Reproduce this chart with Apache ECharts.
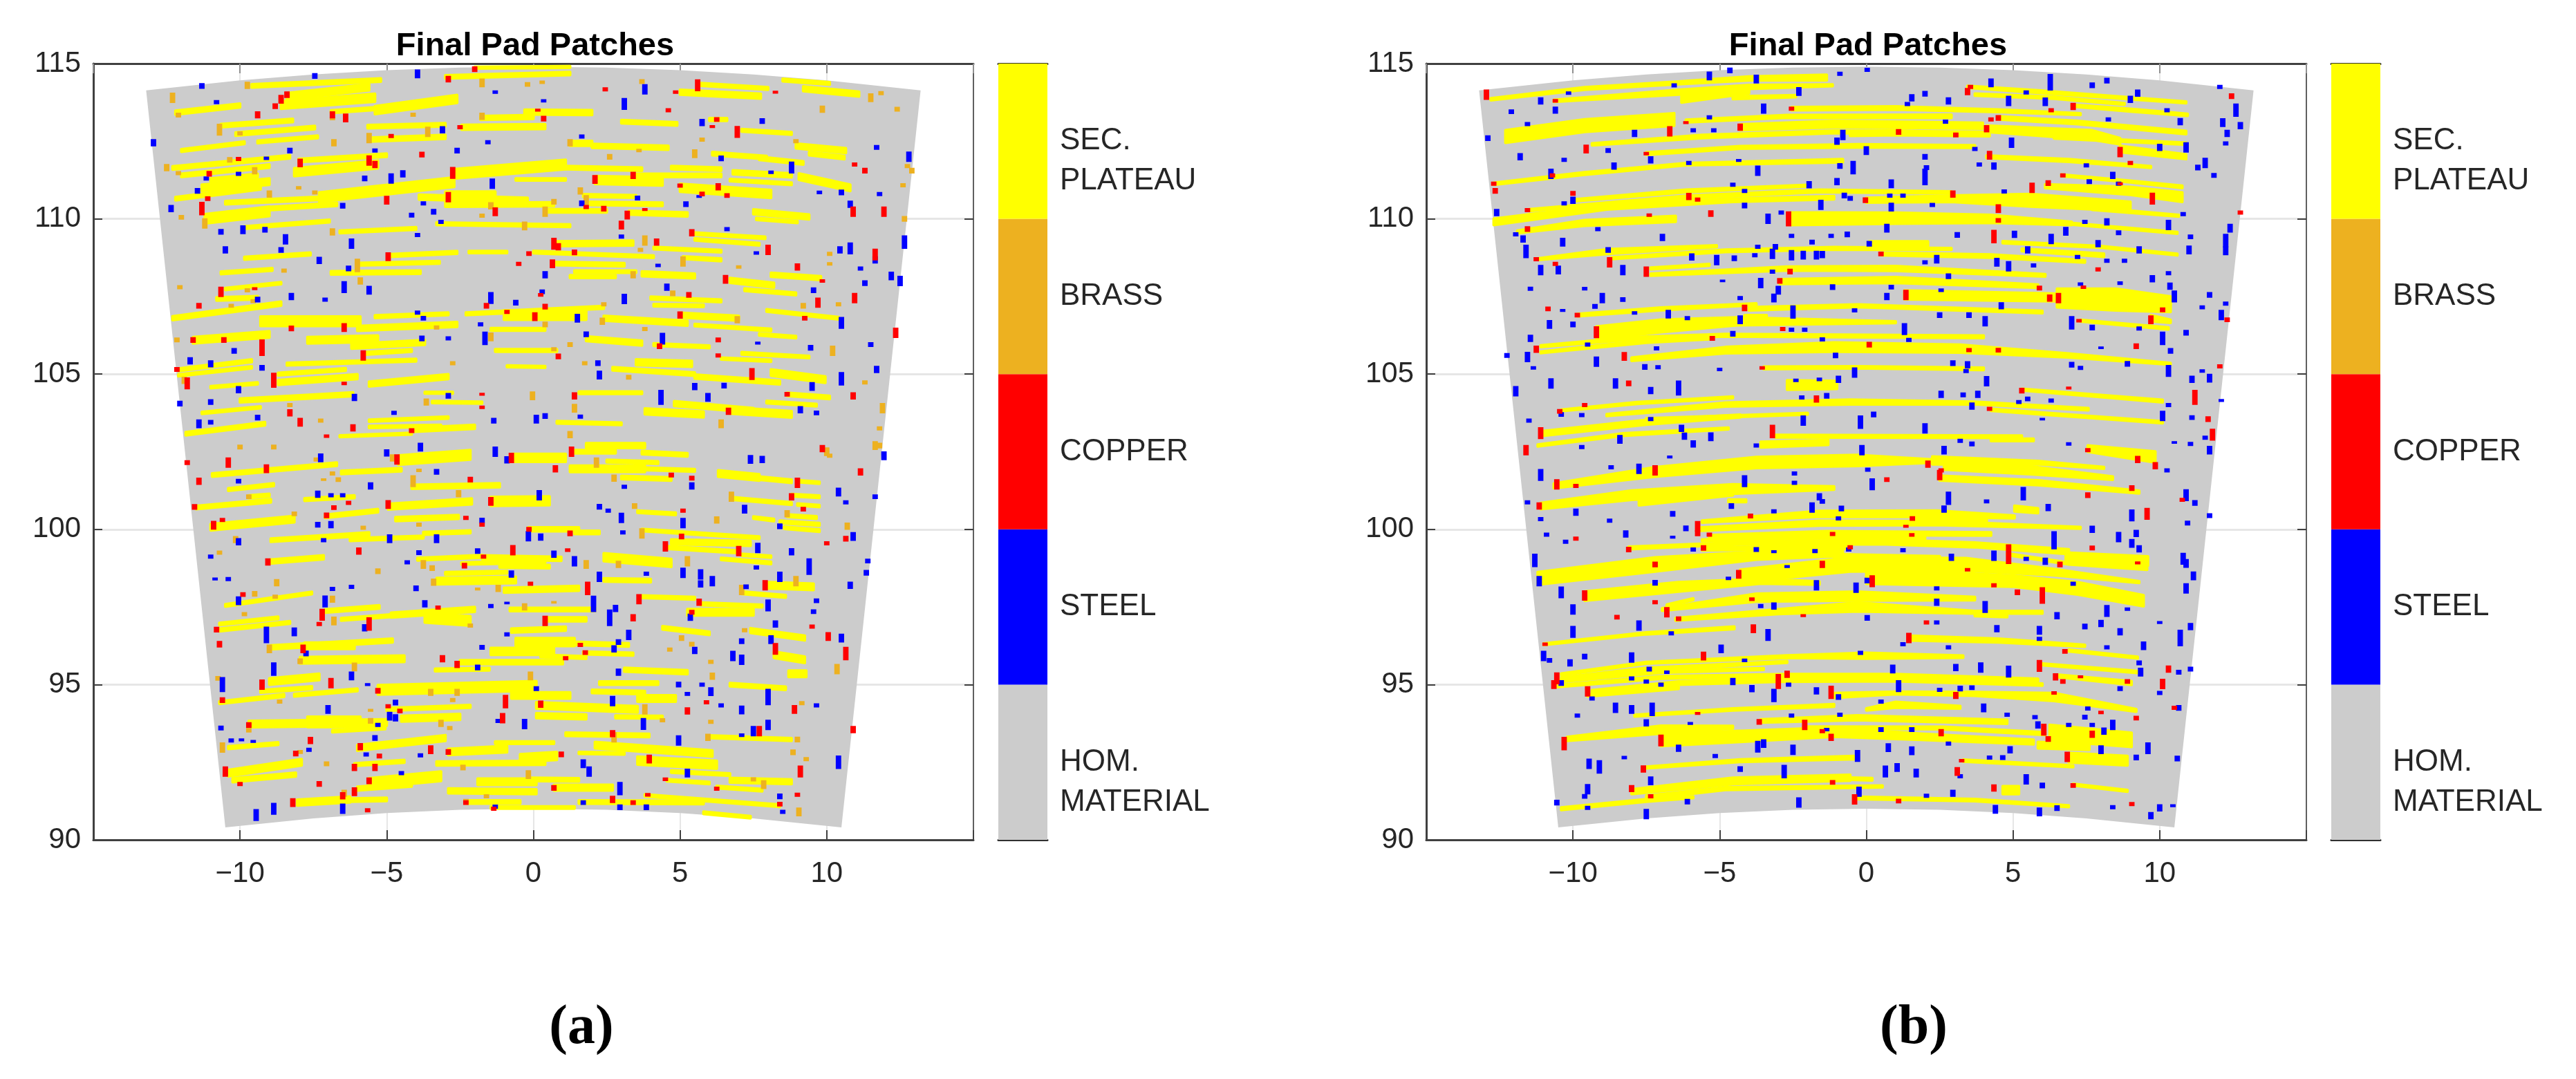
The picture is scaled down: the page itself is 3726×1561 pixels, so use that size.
<!DOCTYPE html>
<html><head><meta charset="utf-8">
<style>html,body{margin:0;padding:0;background:#fff}#c{width:3726px;height:1561px}</style>
<script src="https://cdn.jsdelivr.net/npm/echarts@6/dist/echarts.min.js"></script>
</head><body><div id="c"></div>
<script>
// pad outline in data units
const padOutline=[[-13.2,114.14],[-10,114.46],[-7.5,114.65],[-5,114.79],[-2.5,114.87],[0,114.9],[2.5,114.87],[5,114.79],[7.5,114.65],[10,114.46],[13.2,114.14],[10.5,90.4],[7.5,90.69],[5,90.86],[2.5,90.97],[0,91],[-2.5,90.97],[-5,90.86],[-7.5,90.69],[-10.5,90.4]];
const colorLabels=['HOM.','MATERIAL','STEEL','COPPER','BRASS','SEC.','PLATEAU'];
const colorLabelPos=[.5,.242,1.5,2.5,3.5,4.5,4.242];
const colorNames=['HOM. MATERIAL','STEEL','COPPER','BRASS','SEC. PLATEAU'];
const colorFills=['#cccccc','#0000ff','#ff0000','#edb120','#ffff00'];
// (a) yellow streaks: x1,y1,x2,y2,thickness
const plateauA=[
[-9.6,114.28,-5.2,114.47,.1],[-8.4,113.95,-5.6,114.24,.2],[-8.6,113.67,-5.4,113.9,.25],[-5.4,113.5,-2.6,113.86,.25],[-12.2,113.42,-10,113.65,.12],[-6.9,113.45,-5.4,113.55,.08],[-3,114.57,1.25,114.68,.1],[-2,114.87,1.25,114.89,.05],[5.7,114.33,8,114.2,.08],[5,114.08,7.75,113.95,.15],[8.5,114.47,10.1,114.36,.08],[9.2,114.19,11.1,114.02,.15],[-.3,113.44,2,113.42,.15],[-1.8,113.25,0,113.28,.12],[3,113.13,4.9,113.06,.1],[6,113.2,6.6,113.2,.08],[-10.65,113,-8.2,113.17,.1],[-10.15,112.73,-7.45,112.94,.1],[-5.65,112.97,-3,113.03,.1],[-2.45,112.95,.4,112.97,.15],[7.1,112.85,8.8,112.75,.08],[-12,112.2,-9.85,112.45,.08],[-9.4,112.48,-7.35,112.64,.08],[-5.6,112.55,-3,112.64,.12],[1.25,112.43,2,112.43,.15],[2,112.35,4.6,112.29,.12],[8.95,112.35,10.65,112.2,.15],[9.4,112.1,10.6,111.97,.1],[6.1,112.1,7.95,111.97,.1],[7.7,111.95,9.2,111.8,.1],[-12.3,111.64,-8.3,112,.1],[-12,111.4,-9,111.7,.1],[-8,111.88,-5,112.05,.1],[-8.15,111.5,-5.3,111.75,.25],[-11,111.25,-9.4,111.4,.1],[-11.3,111,-9,111.2,.2],[-12.2,110.65,-9.3,111,.1],[-7.3,110.7,-2.7,111.18,.3],[-2.7,111.45,1.1,111.75,.3],[1.1,111.65,3.7,111.6,.1],[-.6,111.27,1.1,111.27,.06],[2.1,111.25,4.4,111.2,.25],[3.4,111.4,6.4,111.4,.1],[4.7,111.65,6.4,111.6,.1],[6.8,111.5,8.8,111.4,.12],[6.7,111.25,8.8,111.13,.07],[9.05,111.36,10.8,111,.2],[5,111,8.1,110.8,.25],[-3.9,110.7,-.2,110.6,.15],[-3,110.7,-1.3,110.7,.35],[-3,110.45,.7,110.47,.12],[1.7,110.75,3.5,110.72,.08],[1.8,110.5,4.4,110.47,.1],[.4,110.26,2.5,110.26,.1],[3.25,110.2,5.25,110.14,.12],[7.5,110.23,9.4,110.06,.15],[7.6,110,9,109.9,.06],[-10.5,110.52,-7.3,110.66,.1],[-11.2,110,-9,110.24,.3],[-9,110.33,-6.7,110.47,.1],[-9.85,109.72,-6.95,109.93,.08],[-6.6,109.58,-4,109.69,.08],[-3.3,109.84,1.25,109.78,.08],[.7,109.2,3.4,109.22,.15],[5.4,109.53,7.9,109.39,.07],[5.5,109.34,7.7,109.18,.07],[4.1,109.06,6.4,108.96,.07],[-4.9,108.82,-2.6,108.92,.08],[-2.2,108.93,-.9,108.93,.06],[-9.85,108.73,-7.6,108.87,.08],[0,108.93,4.1,108.78,.07],[5.1,108.75,6.4,108.68,.08],[-6,108.54,-3.2,108.6,.08],[.7,108.56,3.1,108.52,.1],[-10.65,108.26,-8.9,108.37,.08],[-6.9,108.26,-3.85,108.28,.1],[1.4,108.3,3.5,108.3,.07],[3.7,108.23,5.5,108.16,.15],[1.25,108.14,2.8,108.14,.08],[8.1,108.2,9.8,108.09,.12],[6.7,108.02,8.2,107.86,.15],[7.2,107.72,8.95,107.58,.08],[-10.5,107.74,-8.6,107.93,.06],[-10.8,107.42,-9.4,107.46,.1],[4,107.45,6.4,107.36,.08],[4.1,107.22,5.8,107.2,.07],[-12.3,106.8,-8.6,107.27,.12],[-2.3,106.94,2.4,107.15,.08],[-1,106.9,1.8,106.9,.3],[-5.4,106.85,-2.9,106.94,.08],[-9.3,106.7,-5.9,106.7,.3],[-6,106.47,-2.6,106.6,.15],[2.4,106.8,5.25,106.64,.15],[5,106.9,7,106.8,.15],[7.95,107.05,10.4,106.8,.07],[5.5,106.58,8.1,106.42,.07],[-1.45,106.44,.4,106.44,.08],[7.7,106.28,8.95,106.19,.07],[-11.6,106.09,-9,106.28,.2],[-7.7,106.09,-5.3,106.14,.2],[-6.2,105.9,-3.7,106.02,.15],[1.8,106.14,3.7,106,.15],[4.1,105.95,6,105.88,.08],[-1.3,105.76,.8,105.76,.08],[-5.7,105.67,-4.15,105.76,.08],[7.1,105.67,9.4,105.55,.07],[6.4,105.5,8.1,105.43,.06],[3.5,105.38,5.4,105.33,.18],[-12.1,105.14,-9.6,105.43,.08],[-12.1,104.96,-9.6,105.22,.06],[-8.4,105.32,-4,105.45,.08],[-8.7,105,-6.4,105.15,.08],[-8.7,104.73,-6,104.92,.15],[-11,104.58,-9.4,104.7,.06],[-5.6,104.68,-2.9,104.92,.15],[2.7,105.17,5.5,105,.1],[5.5,104.92,8.4,104.73,.12],[8.1,105.05,9.95,104.82,.2],[-.9,105.25,.4,105.23,.05],[1.55,104.4,3.7,104.4,.07],[-10,104.15,-6.15,104.35,.12],[-3.7,104.4,-2.75,104.4,.05],[-3.45,104.1,-1.75,104.08,.06],[4.8,104.05,7.5,103.83,.15],[6.7,103.83,8.8,103.7,.2],[3.8,103.8,5.8,103.7,.18],[8.65,104.35,10.1,104.25,.1],[7.95,104.1,9.65,104,.07],[-11.3,103.75,-9.3,103.93,.06],[-11.85,103.08,-9.15,103.4,.1],[-5.6,103.5,-2.9,103.6,.06],[-5.6,103.3,-3.15,103.33,.06],[-4.15,103.2,-2,103.3,.12],[-6.6,103,-4.15,103.08,.05],[.8,103.45,3,103.4,.07],
[1.8,102.7,3.8,102.7,.15],[-4.6,102.23,-2.15,102.4,.3],[-.75,102.3,1.1,102.3,.25],[1.4,102.5,2.8,102.5,.1],[3.7,102.47,5.25,102.4,.1],[2.5,102.2,4.25,102.15,.08],[-10.95,101.75,-6.7,102.1,.1],[-6.55,101.83,-4.5,101.92,.1],[1.25,101.95,3.8,101.95,.2],[3.8,101.95,5.5,101.9,.08],[6.3,101.8,7.7,101.67,.2],[7.7,101.65,8.8,101.55,.1],[3,101.67,4.7,101.62,.1],[9,101.55,9.75,101.5,.06],[-4.15,101.37,-1.15,101.42,.12],[-10.4,101.28,-8.85,101.44,.08],[-9.7,101.05,-9,101.1,.08],[-7.8,100.96,-6.1,101.05,.08],[-11.5,100.7,-8.95,100.92,.1],[-1.45,100.9,.55,100.92,.28],[-4.95,100.73,-2.1,100.9,.18],[6.7,101,8.8,100.83,.08],[8.8,101.1,9.75,101.05,.07],[9,100.8,9.75,100.75,.06],[-7.1,100.42,-5.3,100.6,.1],[3.55,100.57,4.85,100.5,.07],[-4.7,100.33,-2.55,100.4,.12],[-11,100.07,-8.15,100.33,.2],[8.65,100.44,9.65,100.38,.08],[7.5,100.38,8.2,100.3,.07],[8.4,100.24,9.75,100.16,.08],[8.55,100.05,9.75,99.96,.07],[-.17,100,1.55,100,.12],[1.4,99.9,2.25,99.9,.1],[-8.95,99.65,-5.6,99.85,.1],[-6.25,99.67,-3.75,99.75,.08],[-3.75,99.87,-2.15,99.92,.08],[3.7,99.98,7.7,99.73,.07],[4.7,99.6,7.4,99.55,.15],[4.5,99.42,6.9,99.28,.08],[-9,98.96,-7.15,99.1,.12],[-3.95,99.04,-1.75,99.13,.08],[-1.75,99.1,.95,99.05,.12],[-2.45,98.9,.4,98.96,.07],[-1.15,98.82,.55,98.8,.1],[2.4,99.1,4.7,98.92,.25],[6.4,99.05,8.1,98.92,.07],[7.1,99.18,8.1,99.12,.06],[-3,98.58,-.9,98.62,.08],[-3.3,98.33,-.6,98.37,.2],[-1,98.04,1.55,98.1,.15],[2.4,98.37,4,98.35,.1],[8,98.2,9.55,98.15,.2],[7.1,97.96,8.6,97.84,.08],[-10.5,97.55,-7.55,97.95,.07],[3.7,97.83,5.5,97.78,.08],[5.7,97.6,7.8,97.53,.08],[-7.1,97.37,-5.25,97.5,.1],[-4.85,97.24,-2,97.42,.15],[-3.7,97.15,-2.15,97.05,.3],[-.8,97.42,2.1,97.42,.1],[5.25,97.33,7.5,97.33,.2],[-6.55,97.1,-4.85,97.22,.08],[-10.7,96.95,-8.7,97.15,.07],[-10.7,96.76,-8.3,97,.08],[.4,97.1,1.8,97.1,.12],[-.75,96.74,1.1,96.8,.12],[4.4,96.83,6,96.65,.1],[7.4,96.74,9.25,96.5,.15],[-8.95,96.2,-4.8,96.42,.12],[-7.8,96.25,-6.1,96.25,.2],[-.6,96.37,1.4,96.37,.25],[1.4,96.33,3.25,96.28,.1],[-1.45,96.07,.7,96.07,.22],[1.7,96.02,3.4,95.98,.08],[.25,95.92,1.8,95.87,.08],[-7.95,95.78,-4.4,95.83,.2],[8.2,95.96,9.25,95.8,.2],[-2.5,95.72,1,95.72,.12],[-3.35,95.47,-1.5,95.5,.08],[3.1,95.48,5.25,95.4,.12],[8.7,95.35,9.3,95.35,.2],[-9,95.1,-7.3,95.25,.2],[-9.3,94.78,-7.55,94.9,.08],[-8.15,94.66,-6,94.83,.08],[-10.7,94.42,-8.5,94.65,.08],[-5.3,94.83,.1,94.96,.3],[-.75,94.65,1.25,94.65,.2],[2.25,95.05,4.25,95.05,.1],[2,94.78,3.8,94.74,.1],[3.55,94.55,4.85,94.55,.2],[6.7,95,8.6,94.88,.1],[.1,94.33,3.55,94.2,.2],[-5,94.2,-2.15,94.3,.08],[-4.5,93.9,-2.5,93.96,.18],[.1,94,1.8,93.96,.15],[2.8,93.96,4.4,93.95,.08],[-9.7,93.73,-5,93.78,.2],[-7.7,93.8,-5.9,93.8,.33],[-6.85,93.5,-5.05,93.6,.07],[1.1,93.4,3.95,93.36,.1],[6,93.32,8.8,93.23,.08],[-10.4,92.97,-8.7,93.1,.08],[-6,92.96,-3,93.28,.18],[-2.9,92.83,-.9,92.92,.2],[-1.3,93.13,.7,93.13,.07],[2.1,93.05,6.1,92.78,.2],[1.55,92.8,3.1,92.78,.06],[-.45,92.63,.8,92.7,.25],[-3.3,92.46,.4,92.48,.12],[3.55,92.55,6.25,92.42,.25],[-6.1,92.42,-4.4,92.53,.08],[-10.4,92.15,-7.9,92.5,.2],[-10.25,91.92,-8.1,92.1,.12],[-5.6,91.83,-3.15,92.05,.3],[-6,91.65,-4.15,91.78,.12],[-1.9,91.87,.1,91.87,.2],[-.15,91.95,1.55,91.93,.1],[4.7,92.2,6.7,92.1,.07],[4.55,91.92,6,91.83,.07],[6.7,91.92,8.8,91.87,.15],[6.25,91.7,7.8,91.6,.07],[.7,91.68,2.7,91.68,.18],[-2.9,91.58,.1,91.55,.15],[-8.05,91.2,-6.25,91.3,.18],[-6.25,91.28,-5,91.3,.1],[-2.3,91.22,-.45,91.22,.1],[1.55,91.22,5.8,91.2,.1],[3.8,91.43,8.4,91.1,.07],[-1.45,91.04,1.4,91.04,.07],[5.8,90.87,7.4,90.73,.07]
].map(s=>[s[0],s[1],s[4],s[2],s[3],s[4]]);
// (a) patches: x,y,height,(width)
const steelA=[[-11.3,114.28,.15],[-7.45,114.6,.15],[-3.95,114.67,.25],[3.8,114.17,.3],[3.1,113.7,.35],[-1.3,114.08,.08],[.35,113.8,.07],[-10.8,113.76,.1],[7.8,113.15,.15],[5.75,113.1,.2],[-1.55,112.47,.1,.2],[-3.1,112.87,.2],[-2.6,112.2,.15],[-5.4,112.2,.1],[-8.3,112.2,.15,.25],[1.65,112.65,.1],[-12.95,112.45,.2],[6.4,111.95,.15],[8.8,111.65,.35],[8.1,111.5,.08],[12.8,112,.3],[11.7,112.3,.12],[-11.15,111.3,.1,.25],[-10.05,111.45,.1],[-9.1,111.95,.08],[-5.75,111.3,.15],[-4.85,111.3,.3],[-4.45,111.45,.2],[-1.4,111.13,.3],[-11.45,110.9,.15],[10.5,110.85,.15],[9.75,110.85,.08],[11.8,110.8,.1],[10.8,110.47,.2],[5.65,110.72,.06],[5.2,110.47,.15],[3.55,110.67,.12],[1.65,110.5,.15],[-3.75,110.5,.1],[-6.5,110.42,.15],[-4.15,110.12,.12,.35],[-3.4,110.23,.15],[-3.15,109.9,.1,.25],[-12.35,110.33,.2],[-10.65,109.58,.15,.2],[-9.9,109.65,.25],[-9.15,109.65,.15],[-8.45,109.34,.3],[-6.2,109.2,.3],[-3.95,109.48,.1],[-10.5,109,.2],[-8.6,109,.15],[-7.3,108.66,.2],[-6.3,108.4,.15],[-6.45,107.8,.35],[-5.6,107.7,.25],[3,109.43,.1],[6.6,109.67,.1],[10.8,109.05,.35],[10.45,109,.2],[12.65,109.25,.4],[11.65,108.68,.2],[11.15,108.4,.1,.25],[11.3,107.93,.15],[12.2,108.16,.25],[12.5,108,.3],[7.6,108.9,.08],[4.25,108.5,.08,.25],[.4,108.2,.2],[4.55,107.8,.2],[9.55,107.7,.15],[-1.45,107.45,.35],[.3,107.65,.12],[-.6,107.3,.15],[3.1,107.42,.3],[-8.25,107.5,.2],[-7.1,107.4,.1],[-9.4,107.4,.15],[-3.95,106.98,.1],[-3.75,106.8,.12],[1.5,106.8,.25],[-1.8,106.6,.1,.3],[10.5,106.65,.35],[1.8,106.28,.15],[-1.65,106.15,.4],[-2.9,106.15,.1],[-3.8,106.15,.15],[4.4,106.14,.35],[-10.2,105.75,.15],[7.65,106,.06],[9.45,105.85,.15],[11.5,105.95,.12],[11.7,105.15,.2],[-11.7,105.43,.2],[-11,105.33,.2],[-9.25,105.2,.15],[2.2,105.35,.15],[2.25,104.97,.25],[10.5,104.85,.4],[9.5,104.6,.25],[5.5,104.6,.2],[6.5,104.63,.15],[4.35,104.25,.45],[5.95,104.25,.25],[-10.05,104.5,.2],[-12.05,104.05,.15],[-11,104.1,.15],[-6.1,104.25,.2],[-2.9,104.3,.15],[-4.75,103.75,.1],[-9.4,103.6,.15],[-11.4,103.4,.25],[-11,103.45,.12],[-1.35,103.5,.15],[.1,103.55,.25],[.4,103.65,.15],[1.6,103.63,.1,.25],[9.1,103.85,.2],[9.65,103.75,.12],
[-3.85,102.65,.25],[-5,102.46,.2],[-1.3,102.5,.3],[-.9,102.24,.2],[11.95,102.37,.25],[7.4,102.25,.25],[7.8,102.25,.2],[-7.25,102.3,.25],[5.4,101.4,.2],[-3.3,101.85,.15],[-5.55,101.4,.2],[-10.05,101.55,.12],[-7.35,101.13,.2],[-6.9,101.1,.1,.2],[-6.5,101.1,.1],[.2,101.1,.3],[10.4,101.2,.25],[10.65,100.87,.1],[11.65,101.05,.12],[3.1,101.37,.1],[2.25,100.73,.15],[2.55,100.6,.1],[3,100.37,.3],[7.2,100.65,.25],[5.1,100.2,.3],[-7.35,100.15,.15],[-6.9,100.15,.2],[-1.75,100.28,.15],[8.4,100.1,.15],[10.9,99.77,.25],[3.05,99.9,.1],[-.17,99.78,.3],[.25,99.75,.2],[-4.9,99.7,.25],[-3.3,99.7,.25],[-10.05,99.6,.2],[-7.15,99.65,.1],[-11,99.12,.1],[-3.9,99.25,.12],[-4.3,98.94,.1,.3],[-1.9,99.3,.15],[.7,99.2,.2],[1.4,98.97,.3],[8.8,99.28,.2],[7.65,99.4,.3],[9.4,98.8,.5],[11.4,98.98,.12],[11.35,98.6,.15],[7.6,98.77,.1],[5.1,98.6,.3],[5.7,98.55,.3],[6.1,98.33,.3],[3.85,98.57,.1,.3],[2.25,98.47,.3],[-.75,98.56,.2],[5.7,98.24,.2],[7.25,98.15,.12],[10.8,98.2,.2],[8.4,98.47,.3],[-4,98.1,.15],[-6.85,98.08,.1],[-6.2,98.15,.1],[-10.85,98.4,.06],[-10.4,98.4,.1],[-10.05,97.7,.25],[-7.1,97.68,.35],[2.05,97.6,.5],[2.8,97.45,.2],[2.6,97.15,.5],[-.9,97.63,.05,.3],[-1.45,97.53,.1],[-3.7,97.6,.2],[9.65,97.7,.12],[9.55,97.35,.12],[8,97.55,.35],[5.35,97.17,.2],[-5.75,96.83,.2],[-8.15,96.7,.25],[-9.1,96.6,.5],[-.9,96.62,.1,.35],[3.25,96.6,.3],[8.25,96.95,.2],[8.1,96.45,.25],[7.1,96.4,.15],[10.5,96.5,.25],[2.9,96.37,.15],[-1.75,96.2,.12],[2.75,96.15,.2],[5.5,96.1,.2],[-7.75,96,.15],[6.8,95.92,.3],[7.1,95.8,.3],[-1.9,95.55,.15],[-8.85,95.5,.4],[-6.2,95.28,.25],[2.9,95.4,.2],[-10.6,95,.45],[.1,94.87,.12],[4.95,95,.15],[5.75,95,.1],[6.05,94.77,.25],[5.25,94.7,.1],[8,94.6,.5],[2.7,94.47,.3],[-5.65,95,.06],[-4.7,94.42,.15],[-7,94.2,.25],[6.4,94.33,.1],[7.1,94.18,.25],[9.65,94.33,.1],[-4.9,93.98,.25],[-4.7,93.93,.2],[-1.2,93.83,.1],[-.3,93.73,.3],[3.75,93.73,.35],[-5.3,93.7,.1],[-10.65,93.6,.12,.4],[8,93.7,.3],[7.5,93.5,.3],[4.95,93.2,.3],[7.1,93.37,.08],[-10.3,93.2,.1],[-9.95,93.22,.06],[-9.55,93.17,.06],[-5.4,93.28,.15],[-7.65,92.9,.1],[-5.7,92.75,.1],[-3.85,92.72,.1,.3],[1.7,92.45,.25],[1.9,92.2,.3],[10.4,92.5,.4],[-4.5,92.15,.1],[5.25,92.15,.25],[2.95,91.65,.4],[8.4,91.4,.15],[-9.45,90.8,.35],[-8.85,91,.35],[-6.5,91,.3],[-1.3,91.07,.1,.3],[1.7,91.2,.12],[2.95,91.05,.15],[3.85,91.05,.15,.25],[8.5,90.9,.1]];
const copperA=[[-2,114.82,.15],[-2.9,114.5,.18],[5.6,114.3,.35],[4.85,114.08,.08,.3],[2.45,114.17,.1],[-8.8,113.63,.15,.3],[-8.4,114,.18],[-8.6,113.85,.25],[-9.4,113.35,.2],[-6.85,113.35,.2],[-6.4,113.25,.25],[.35,113.23,.15],[.15,113.5,.06],[4.6,113.5,.1],[8.25,114.08,.06],[6.25,113.2,.12],[6.95,112.8,.35],[6.1,112.97,.06],[-4.85,112.67,.1],[-2.5,112.95,.1],[-3.8,112.07,.15],[-5.6,111.88,.3],[-5.4,111.75,.2],[-7.95,111.8,.25],[-10.05,111.93,.1],[-11.05,111.45,.15],[-2.75,111.48,.35],[2.1,111.27,.25],[3.4,111.4,.2],[10.95,111.75,.1,.3],[11.3,111.55,.15,.2],[6.3,111.03,.2],[5,111.07,.1],[5.75,110.8,.12],[6.6,110.75,.12],[-5,110.6,.25],[-2.9,110.7,.3],[-11.3,110.33,.4,.2],[-11.1,110.65,.12],[10.9,110.23,.3],[11.95,110.23,.3],[-1.3,110.23,.25],[1.8,110.38,.1],[2.4,110.33,.15],[3.2,110.12,.25],[3.8,110.3,.06],[3,109.8,.25],[.7,109.2,.35],[.85,109.1,.2],[1.4,108.92,.15],[4.2,109.25,.2],[5.4,109.55,.2],[8,109,.3],[11.65,108.85,.35],[-4.95,108.78,.25],[-.15,108.88,.12],[.65,108.55,.25],[-.5,108.55,.1],[9,108.45,.2],[6.55,108.05,.25],[9.85,108,.08],[-10.65,107.65,.3],[-11.4,107.2,.15],[-9.5,107.75,.06],[.25,107.55,.08],[-1.6,107.2,.15],[.4,107.17,.15],[5.3,107.55,.15],[9.7,107.3,.3],[10.95,107.45,.3],[-.9,107,.1],[.05,106.85,.25],[5,106.9,.2],[9.25,106.8,.12],[12.35,106.33,.3],[-8.25,106.47,.15],[-6.45,106.5,.25],[-11.6,106.1,.15],[-10.55,106.1,.15],[-9.25,105.85,.5],[6.3,106.1,.12],[4.3,105.9,.15],[-5.8,105.6,.3],[6.3,105.6,.1,.3],[.85,105.57,.15],[-12.15,105.15,.12],[-11.8,104.7,.35],[-8.85,104.8,.45],[7.45,105,.35],[-6.45,104.7,.08],[8.65,104.35,.12],[10.9,104.3,.2],[1.4,104.3,.2],[-1.75,104.35,.06],[-1.75,103.93,.08],[6.65,103.8,.2],[-8.3,103.75,.2],[-7.95,103.45,.25],[-6.15,103.27,.2],[-4.15,103.18,.12],[-7.05,103,.08,.3],[9.85,102.6,.2],
[-11.8,102.15,.12],[-10.4,102.15,.3],[-9.1,101.95,.25],[-.75,102.3,.3],[-4.65,102.25,.3],[1.3,102.5,.3],[.75,101.95,.2],[11.15,101.85,.2],[-2.15,101.6,.15],[-11.4,101.55,.2],[9,101.5,.3],[5.4,101.65,.12],[4.7,101.75,.12],[-11.55,100.72,.15],[-4.95,100.8,.25],[-1.45,100.9,.25],[-6.3,100.85,.1],[-6.8,100.7,.12],[-7.05,100.45,.15],[5.1,100.6,.1],[9.2,100.65,.12],[8.8,101.05,.2],[-10.9,100.13,.25,.2],[-10.6,100.3,.1],[-2.3,100.37,.1],[-1.75,100.15,.1,.25],[-.15,100,.12],[1.25,99.87,.15],[5.05,99.77,.15],[4.5,99.45,.3],[7,99.3,.3],[10,99.55,.1,.3],[10.65,99.7,.15],[-5.95,99.3,.2],[-.7,99.33,.3],[1.17,99.33,.08],[-1.7,99.12,.1],[-9.05,98.95,.2],[-2.35,98.83,.15],[1.85,98.1,.4],[-.1,98.25,.1],[7.9,98.2,.3],[3.6,97.75,.3],[-9.9,97.9,.12],[-3.25,97.48,.1,.35],[5.65,97.65,.2],[5.4,97.33,.12],[-7.2,97.25,.35],[-7.3,96.95,.1,.2],[-5.6,96.95,.4],[.4,97.05,.3],[3.4,97.15,.2],[-10.8,96.77,.15],[9.5,96.87,.1,.3],[10.05,96.55,.25],[-10.7,96.3,.18],[1.6,96.28,.1],[1.77,96.03,.12],[1.1,95.85,.1,.2],[8.25,96.15,.35],[10.65,96,.4],[-3.1,95.83,.2],[-2.6,95.65,.2],[-7.85,96.15,.25],[-9.25,95,.3],[-6.9,95.05,.3],[-5.3,94.8,.15,.25],[-10.6,94.5,.15],[-.95,94.45,.4],[5.9,94.43,.1,.4],[.25,94.37,.2],[5.25,94.15,.2],[8.9,94.2,.25],[-4.95,94.3,.1],[-1.05,93.92,.3],[-4.55,94.15,.12],[-9.7,93.7,.15],[10.9,93.55,.2],[7.7,93.5,.3],[2.7,93.42,.2],[-7.6,93.2,.2],[-8.1,92.78,.15],[-5.9,93,.2],[-3.5,92.9,.25],[-5.25,92.7,.12],[-2.9,92.83,.15],[.95,92.75,.15],[3.95,92.6,.25],[-5.4,92.33,.2],[-6.1,92.33,.2],[9.1,92.2,.35],[-10.5,92.2,.3],[-10,91.8,.1],[-7.3,91.8,.15],[-5.6,91.9,.18],[-6.1,91.55,.25],[4.5,91.95,.08,.25],[6.25,91.65,.1],[.7,91.67,.15],[2.7,91.3,.2],[3.4,91.2,.12],[-8.2,91.2,.25],[-6.5,91.42,.2],[9,91.45,.1],[8.4,91.15,.12],[3.9,91.45,.08],[-5.65,90.95,.1],[-2.3,91.2,.12],[-1.35,91,.1]];
const brassA=[[-12.3,113.9,.3],[-9.75,114.3,.2],[-1.75,114.38,.25],[-.2,114.33,.12],[.3,114.4,.08],[3.7,114.42,.12],[11.5,113.9,.25],[11.85,114.05,.1],[9.85,113.53,.2],[12.4,113.53,.12],[-12.1,113.34,.12],[-6.85,113.23,.08],[-4.1,113.35,.1],[-1.75,113.3,.2],[-10.7,112.87,.35],[-10,112.75,.1],[-5.6,112.6,.3],[-3.6,112.8,.3],[-6.8,112.45,.2],[3.6,112.2,.08,.25],[2.6,112,.15],[5.75,112.55,.1],[5.5,112.1,.25],[1.25,112.45,.2],[8.95,112.5,.1],[12.75,111.7,.1,.3],[12.9,111.55,.15],[-12.5,111.65,.2],[-12.1,111.47,.1],[-10.35,111.9,.15],[-9.5,111.55,.2],[-9,110.8,.2],[-8,111,.08],[-7.45,110.85,.1],[1.6,110.9,.2],[1.8,110.6,.3],[-1.45,110.42,.2],[.4,110.23,.3],[.7,110.55,.15],[12.6,111.08,.1],[12.65,110,.15],[-12,110.05,.12],[-11.2,109.85,.3],[-6.85,109.58,.2,.2],[-1.75,110.1,.1],[-.3,109.77,.25],[3.8,109.3,.3],[3.65,109,.1],[5.1,108.63,.3],[10.1,108.87,.1],[-6,108.5,.4],[-5.9,108,.2],[-8.5,108.33,.1],[-12.05,107.8,.1],[-9.75,107.7,.1],[-10.3,107.2,.1,.25],[-9.55,107.35,.1],[10.1,108.55,.08],[7,108.45,.08],[3.4,108.2,.2],[4.75,107.6,.15],[9.2,107.2,.15],[10.4,107.25,.1],[2.4,107.25,.1],[2.35,106.7,.2],[3.8,106.45,.1],[6.95,106.75,.2],[-3.3,106.5,.1],[-1.45,106.2,.25],[.4,106.6,.15],[1.25,105.95,.12],[.7,105.8,.1],[-2.75,105.35,.1],[1.75,105.35,.1,.2],[10.2,105.75,.3],[3.25,104.9,.12],[-12.15,106.1,.12],[-11.9,104.8,.2],[11.9,103.9,.3],[11.3,104.73,.1],[-.03,104.3,.25],[1.4,103.9,.25],[-3.65,104.1,.2],[6.4,103.4,.25],[1.25,103.05,.2],[11.8,103.25,.1],[11.65,102.7,.25],[-8.3,104,.1],[-7.25,103.5,.1],[-10,102.65,.12],
[-8.85,102.65,.12],[-7.4,102.25,.1],[-4.8,102.3,.2],[2.15,102.15,.3],[10,102.5,.25],[10.1,102.37,.1],[11.8,102.7,.15],[-6.85,101.8,.1,.25],[-6.65,101.6,.12],[-7.15,101.6,.05],[-4.1,101.55,.35],[-3.9,101.9,.08],[2.75,101.65,.2],[-9.7,101.05,.12],[-2.55,101.15,.2],[6.75,101.05,.3],[3.45,100.75,.15],[-8.15,100.5,.12],[6.25,100.3,.2],[-3.9,100.15,.1],[10.7,100.1,.2],[8.65,100.5,.2],[-5.8,100.05,.1],[-10.15,99.67,.2],[3.7,99.87,.3],[-10.7,99.25,.1],[-3.75,98.87,.25],[-3.45,98.75,.15],[5.25,98.97,.3],[1.8,98.87,.25],[2.9,98.87,.2],[-5.3,98.65,.15],[-8.75,98.28,.2,.25],[-3.4,98.3,.2],[-1.9,98.08,.06],[-1.2,98.1,.2],[8.95,98.33,.3],[7.1,98.05,.3],[-9.5,97.92,.15],[-8.8,97.83,.1],[-6.85,97.75,.2],[-.3,97.5,.2,.25],[.7,97.65,.05],[-9.85,97.27,.1],[-6.8,97.05,.25],[-2.15,96.9,.1],[5.05,96.5,.15],[7.2,96.75,.1,.2],[4.65,96.13,.1],[5.4,96.3,.12],[-9,96.15,.25],[-7.95,95.75,.15],[-6.1,95.57,.25],[6.05,95.73,.1],[10.35,95.5,.3],[-10.75,95.2,.12],[-.1,95.28,.25],[6.1,95.27,.2],[-3.5,94.75,.2],[-2.6,94.75,.2],[-2.75,94.5,.1],[-8.65,94.45,.1],[-5.55,94.17,.06],[3.8,94.2,.3],[9.15,94.4,.1],[-9.7,93.6,.25],[-5.55,93.83,.15],[-3.15,93.75,.2],[-2.85,93.6,.1],[4.4,93.85,.1],[6.05,93.8,.1],[2.75,93.3,.3],[5.95,93.3,.2],[9,93.23,.15],[-10.6,92.97,.3],[8.85,92.82,.15],[9.3,92.6,.1],[-7.05,92.45,.12],[-7.95,92.83,.1],[-.17,92.1,.25],[-2.4,92.33,.15],[7.5,91.95,.1],[7.85,91.78,.25],[-1.6,91.4,.1],[-6.45,91.5,.2],[-2.3,91.25,.1],[9.05,90.9,.25]];
// (b) yellow streaks: x,y,thickness along each streak
const plateauB=[
[-12.8,113.85,.06,-9.6,114.2,.08,-6.4,114.38,.08,-4,114.52,.12,-1.35,114.55,.18],[-10.65,113.8,.06,-6.4,114.08,.15,-4,114.25,.12,-1.15,114.3,.05],[-6.3,113.9,.3,-4,114.1,.12],[-4.55,113.9,.08,-2.4,113.95,.06],[-2.55,113.55,.1,1,113.57,.1,4.5,113.48,.08,7.3,113.37,.05],[3.45,114.25,.06,5.85,114.1,.08,10.9,113.75,.05],[3.7,114,.06,6.4,113.9,.06,8.8,113.7,.05],[7,113.65,.06,9,113.5,.08,10.95,113.35,.06],[-12.3,112.65,.4,-9.6,113,.4,-6.55,113.2,.4],[-6.15,113.15,.08,-2.7,113.3,.08,2.9,113.3,.1],[-4.3,112.95,.18,-1.1,113.05,.2,3.97,113,.18],[-9.35,112.4,.06,-5.6,112.65,.1,-1.1,112.8,.08,3.97,112.75,.1],[-.55,112.75,.15,1,112.77,.15,4.2,112.7,.08],[4.5,113.25,.1,7.2,113.1,.1,10.9,112.78,.1],[4.1,112.9,.2,7.7,112.7,.3,8.65,112.5,.2],[6.4,112.62,.06,10.9,112.42,.06],[-7.5,112.1,.08,-4.3,112.3,.08,-.3,112.35,.1,3.7,112.33,.08],[8.65,112.25,.2,10.9,112,.15],[4.1,112,.08,6.9,111.88,.08,9.7,111.67,.05],[-12.7,111.13,.06,-9.6,111.46,.08,-6.15,111.76,.07,-.8,111.87,.1],[6.65,111.4,.05,9,111.2,.05,10.77,111.03,.07],[6.1,111.05,.12,9,110.9,.25,10.77,110.7,.3],[-9.9,110.6,.06,-6.15,110.9,.08,-2,111.07,.05],[-11.5,110.28,.06,-6.15,110.7,.08,-1.6,110.9,.08,2.9,110.85,.06],[-12.7,109.9,.2,-8.85,110.38,.15,-4.55,110.6,.1,-1.1,110.68,.1],[0,110.6,.15,2.9,110.65,.2,5.6,110.6,.4,9,110.4,.3],[7.7,110.33,.08,10.65,110.1,.05],[-2.55,110,.4,1,110.02,.35,4.25,110,.25,7,109.85,.1],[6.9,109.85,.05,10.6,109.55,.05],[-11.9,109.58,.08,-9.6,109.87,.18,-6.5,110,.18],[4.65,109.25,.06,8,109.1,.05,10.6,108.85,.05],[5.3,109,.08,8.1,108.83,.1],[-11.2,108.7,.05,-8.8,108.95,.15,-5.1,109.12,.05],[-8.7,108.73,.05,-4.8,108.97,.07,-1.1,109.05,.08,2.9,109.03,.05],[.1,109.15,.25,2.1,109.15,.25],[.5,108.87,.08,4.25,108.8,.1,7.45,108.63,.07],[-7.35,108.4,.05,-5.35,108.52,.05],[-7.35,108.2,.06,-2.7,108.4,.12,1,108.4,.15,6.1,108.18,.07],[-2.95,107.98,.15,1,108.03,.18,5.85,107.83,.1],[1.3,107.55,.28,6.37,107.47,.25,10.37,107.3,.15],[6.5,107.45,.6,8.5,107.4,.7,10.37,107.25,.5],[-9.85,106.9,.07,-7,107.1,.08,-3.75,107.25,.05],[-4,107.1,.1,-.3,107.2,.08,6,107,.07],[-4.15,106.87,.05,-3.4,106.87,.05],[7.3,106.72,.05,10.3,106.47,.06],[9.7,106.8,.2,10.37,106.7,.1],[-9.2,106.33,.4,-7,106.55,.4,-4.4,106.7,.25,1,106.67,.05],[-11.1,105.9,.05,-8,106.15,.08,-4.8,106.25,.08,4,106.2,.08],[-11.1,105.7,.05,-7.5,106.05,.08,-5.35,106.15,.05],[-8,105.48,.1,-4.8,105.77,.2,-1.1,105.87,.3,3.2,105.82,.25,6.9,105.6,.12,10.37,105.33,.05],[-3.5,105.2,.08,-.3,105.22,.06,4,105.17,.07],[-2.7,104.65,.3,-1,104.65,.25],[5.3,104.5,.05,10.1,104.13,.08],[-10.4,103.83,.05,-7.8,104.07,.06,-4.55,104.25,.05],[-8.85,103.68,.06,-4.8,104.02,.12,-.55,104.1,.15,3.7,104.07,.08,7.57,103.87,.07],[4.25,103.85,.06,10.1,103.45,.06],[-11.1,103.08,.15,-7.5,103.45,.15,-4.3,103.65,.08],[-7.5,103.55,.05,-2,103.72,.05],[-11.2,102.7,.06,-8.3,103.05,.08,-4.7,103.25,.05],[-3.1,103,.08,5.3,102.98,.07],[-3.6,102.73,.18,-1.3,102.8,.15],[4.25,102.88,.07,5.7,102.88,.07],[7.55,102.6,.2,9.85,102.33,.35],
[-10.65,101.4,.15,-7.2,101.85,.3,-3.75,102.15,.35,-.3,102.22,.35,2.25,102.2,.1],[2.25,102.22,.25,5.85,102.15,.1,8.1,101.98,.05],[2.65,102,.15,5.6,101.9,.25,8.4,101.65,.1],[2.5,101.65,.15,5.85,101.5,.15,9.3,101.2,.08],[-11.1,100.75,.2,-8,101.1,.3,-4.55,101.3,.3,-1.1,101.33,.1],[-7.75,100.95,.35,-4.55,101.2,.2],[-4.7,100.92,.08,-4.1,100.92,.08],[5.05,100.67,.18,5.85,100.6,.15],[-5.6,100.25,.06,-1.6,100.5,.18,2.4,100.5,.2,5.05,100.4,.08],[1.6,100.35,.3,4.1,100.33,.3],[-5.75,100,.1,-1.6,100.2,.15,2.4,100.2,.12,7.3,100.05,.05],[-5.35,99.77,.08,-1.35,99.88,.12,4.25,99.85,.1],[-5.6,99.65,.05,-1.35,99.74,.05,2,99.74,.08],[-8.1,99.4,.08,-4.3,99.55,.07,.5,99.6,.15,3.7,99.5,.15,6.9,99.28,.15],[-5.6,99.37,.1,-.55,99.42,.08],[-11.2,98.42,.4,-7.2,98.87,.45,-3.75,99.15,.25,-.8,99.22,.15],[-1.1,99.15,.1,2.5,99.1,.07],[6.8,99.1,.3,9.6,98.98,.3],[4.8,99.2,.06,6.9,98.9,.06,9.57,98.8,.2],[-4.3,98.5,.4,-.55,98.87,.45,3.4,98.87,.4,6.4,98.62,.2,9.3,98.3,.05],[-9.6,97.85,.3,-6.4,98.15,.3,-3.6,98.33,.15,-1.6,98.27,.1],[0,98.5,.5,5.05,98.33,.35,7.2,98.1,.4,9.45,97.7,.35],[-6.96,97.42,.08,-3.75,97.8,.25,-.3,97.85,.28,3.7,97.77,.1],[-6.8,97.55,.05,-5.9,97.75,.05],[-6.5,97.1,.08,-3,97.35,.15,-.3,97.5,.28,3.7,97.33,.08,6,97.33,.08],[3.7,97.23,.05,4.8,97.2,.05],[-11,96.3,.05,-7.5,96.65,.06,-4.5,96.83,.08],[1.45,96.5,.15,4.5,96.42,.12,7.45,96.25,.06],[6.9,96.1,.06,9.25,95.87,.05],[-10.4,95.33,.05,-7.5,95.7,.05,-2.7,95.9,.08,0,95.93,.18,3.3,95.9,.07],[-10.4,95.2,.06,-7.5,95.5,.08,-2.7,95.73,.05],[-10.55,95.1,.05,-7,95.42,.08,-3.5,95.5,.05],[-10.55,94.95,.06,-7,95.23,.08,-2.7,95.3,.08,1,95.3,.08,5.85,95.15,.07],[-9.35,94.78,.08,-6.4,95.05,.1,-3,95.15,.12,1,95.17,.12,6,95,.06],[-9.5,94.65,.06,-6.4,94.9,.07],[-1.1,94.65,.15,1,94.73,.08,3.7,94.7,.12,6.4,94.6,.25,9.2,94.17,.08],[6,95.65,.05,9.3,95.4,.06],[6.5,95.28,.08,9.04,95.05,.12],[-7.9,94,.05,-4.55,94.2,.06,-1.1,94.33,.08],[0,94.2,.06,1,94.35,.18,3.2,94.27,.08],[-3.6,93.83,.1,-.3,93.93,.15,4.8,93.8,.12],[-2.15,93.62,.05,2.65,93.6,.08,6.1,93.42,.08],[-10.2,93.25,.12,-7,93.55,.25,-4.55,93.63,.08],[-7,93.22,.4,-4.3,93.33,.35,-1.1,93.47,.3,1.85,93.32,.2,5.7,93.15,.15],[6.25,93.45,.5,9.04,93.22,.45],[5.85,93.05,.2,7.6,93,.2],[6.9,92.65,.3,8.9,92.55,.3],[-7.5,92.33,.05,-4.3,92.55,.08,-.4,92.65,.1],[3.3,92.55,.06,7.05,92.37,.05],[-8,91.55,.15,-4.55,91.9,.2,-.55,92,.18],[-.55,91.97,.07,.2,91.95,.07],[-7.5,91.37,.1,-4.8,91.65,.08,.55,91.72,.06],[-10.4,91,.08,-7.5,91.27,.08,-5.9,91.37,.05],[-.3,91.35,.07,3.7,91.28,.07,6.9,91.08,.05],[7.05,91.78,.05,8.9,91.58,.05],[4.65,91.6,.25,5.2,91.6,.25]];
const steelB=[[-4.65,114.78,.15],[-5.35,114.6,.25],[-3.75,114.5,.25],[-.9,114.67,.1,.35],[.03,114.8,.1],[6.27,114.4,.5],[4.25,114.38,.25],[7.7,114.3,.15],[8.2,114.45,.15],[5.45,114.07,.1,.3],[9.25,114.05,.2],[9,113.85,.2],[-2.3,114.1,.25],[-3.5,113.55,.3],[-6.55,114.3,.1],[-10.15,114.05,.08],[-11.1,113.8,.2],[-10.6,113.5,.2],[-12.1,113.45,.12],[1.55,113.9,.2,.25],[2,114.03,.15],[2.8,113.8,.2],[1.4,113.7,.1],[4.85,113.8,.3],[6.1,113.77,.25],[10.25,113.5,.1],[12.05,114.25,.1],[12.6,113.5,.4],[12.15,113.1,.25],[12.75,113,.2],[12.3,112.75,.2],[12.25,112.43,.1],[10.7,113.13,.2],[10.9,112.3,.3],[10,112.3,.2],[8.25,113.2,.1],[2.7,113.13,.1],[-5.35,113.27,.1],[-11.55,113.05,.1,.25],[-12.9,112.6,.15,.2],[-7.9,112.75,.2],[-5.9,112.85,.1],[-5.2,112.85,.1],[-.8,112.7,.3],[-1,112.5,.2],[4.95,112.45,.3],[-8.8,112.2,.12],[-11.8,112,.2],[-10.3,111.9,.1,.35],[-8.6,111.7,.2],[-6.05,111.8,.1,.3],[-7.35,111.9,.2],[-4.35,111.88,.06],[-3.7,111.55,.3],[0,112.2,.25],[2,112,.15,.3],[-.9,111.7,.15],[-.45,111.65,.4],[2.05,111.65,.12],[2,111.35,.5],[3.85,111.75,.1,.3],[4.35,111.7,.2,.3],[3.7,112.25,.1],[7.5,111.72,.1],[11.55,111.8,.3],[11.3,111.65,.15],[11.85,111.4,.12],[-10.75,111.45,.3],[-1,111.2,.2],[-1.95,111.1,.2],[-4.55,111.1,.1],[.85,111.13,.25],[8.4,111.4,.2],[8.6,111.13,.1],[7.6,111.2,.12],[4.7,110.88,.1],[-10,110.6,.2],[-10.3,110.5,.1],[-4.15,110.9,.1],[-.75,110.75,.15],[-.55,110.66,.12],[.8,110.75,.1],[1.25,110.75,.1],[-4.15,110.43,.15],[-1.55,110.45,.3],[.85,110.38,.25],[2.25,110.45,.1],[-12.6,110.2,.2],[-2.9,110.2,.1,.3],[-3.35,110,.3],[7.45,109.9,.1,.35],[8.2,109.9,.2],[10.8,110.15,.1,.35],[10.3,109.8,.3],[.7,109.7,.25],[-11.95,109.5,.1],[-11.7,109.35,.2],[-10.35,109.25,.25],[-9.15,109.67,.1],[-6.95,109.4,.2],[-2.55,109.45,.1],[-1.2,109.45,.1],[-.65,109.5,.15,.25],[-1.85,109.25,.12],[3.1,109.48,.15,.4],[5.05,109.5,.2],[6.8,109.6,.25],[6.3,109.35,.3],[8.6,109.55,.12,.35],[7.9,109.2,.2],[11.05,109.42,.12],[12.25,109.3,.4],[12.25,108.97,.25],[12.4,109.7,.25],[11,109,.25],[9.3,109,.2],[5.5,109,.2],[.1,109.2,.15,.4],[-11.6,108.95,.4],[-8.8,109,.15],[-5.95,108.77,.2,.25],[-5.1,108.67,.3],[-4.5,108.73,.15,.3],[-3.8,108.83,.1,.4],[-3.2,108.87,.3],[-2.55,108.83,.3],[-2.15,108.83,.25],[-1.7,108.83,.25],[-1.5,108.85,.2],[-3.7,109.1,.1],[-3.1,109.1,.15],[-11.1,108.35,.3],[-10.5,108.35,.25],[-8.3,108.35,.3],[2,108.6,.1,.7],[2.4,108.7,.25],[4.45,108.6,.25],[4.85,108.47,.3],[5.7,108.5,.1],[7.2,108.77,.1,.25],[8.2,108.65,.1],[8.8,108.65,.1],[10.3,108.25,.1],[9.75,108.07,.2],[-3.2,108.3,.1],[2.8,108.15,.15,.5],[-4.9,108,.05],[-3.6,107.93,.3],[-3,107.7,.25],[-1.15,107.8,.15],[.85,107.8,.12,.35],[-11.45,107.75,.1],[-9.6,107.75,.08],[-9,107.45,.3],[-8.3,107.4,.12],[-4.3,107.45,.1],[-3.15,107.45,.25],[.7,107.5,.2],[2.55,107.7,.08],[7.3,107.9,.08],[8.65,107.93,.08],[10.5,107.5,.35],[11.7,107.55,.15],[11.45,107.15,.1],[12.25,107.27,.1],[12.1,106.9,.3],[10.35,107.83,.2],[4.6,107.2,.2],[-.4,107.05,.1,.35],[-2.5,107,.4],[-9.25,107.18,.12],[-10.35,107.05,.06],[-7.9,106.97,.08],[-6.75,106.93,.25],[-6.1,106.8,.1],[-10.8,106.6,.25],[-10,106.6,.15],[-4.3,106.75,.25],[2.5,106.9,.15],[3.5,106.9,.15],[4.05,106.7,.3],[7,106.65,.4],[7.7,106.5,.15],[9.3,106.47,.1],[1.3,106.45,.35],[-2.55,106.43,.1],[-2.1,106.43,.1],[10.1,106.15,.4],[10.9,106.33,.15],[-4.55,106.3,.15],[-9.5,105.95,.1,.3],[-11.45,106.15,.2],[-7.15,105.83,.1,.35],[-1.5,106.12,.1],[1.45,106.1,.1],[8,105.85,.05],[10.37,105.75,.15],[-1.05,105.6,.15],[-12.25,105.6,.12],[-11.55,105.55,.3],[-9.2,105.4,.3],[-7.55,105.23,.15],[-7.1,105.22,.1],[-11.35,105.2,.08,.3],[-5,105.15,.08],[2.95,105.35,.15],[3.45,105.3,.2],[3.4,105.1,.1,.25],[7,105.3,.15],[7.3,105.2,.1],[8.9,105.33,.15],[10.3,105.1,.35],[11.45,105.1,.08,.3],[11.1,104.83,.2],[11.7,104.87,.25],[-.4,105.05,.3],[-.95,104.83,.2],[-1.6,104.83,.08],[-2.4,104.8,.08],[4.1,104.77,.3],[-10.75,104.7,.3],[-11.95,104.45,.3],[-8.55,104.7,.3],[-7.35,104.47,.2],[-6.4,104.55,.45],[-2.2,104.25,.1,.4],[2.55,104.35,.2],[3.3,104.33,.12],[3.8,104.35,.2],[5.5,104.2,.12],[6.3,104.15,.1],[5.2,104.1,.1,.25],[-1.35,104.3,.15],[3.6,103.97,.2],[10.3,104,.1],[12.1,104.15,.06],[-2.15,103.5,.3],[.25,103.7,.15],[-.2,103.45,.4],[2,103.25,.3],[10.1,103.65,.3],[11.1,103.6,.12],[6,103.55,.05],[-11.5,103.5,.1,.35],[-7.35,103.55,.1],[-10.4,103.7,.12],[-9.7,103.68,.1],[-6.2,103,.2],[-5.3,102.98,.25],[-5.9,102.75,.2],[-3.75,102.7,.1,.3],[-6.3,103.25,.2],[-8.4,102.9,.25],[-9.7,102.65,.1],[-.15,102.55,.3],[2.65,102.55,.25],[3.2,102.85,.1],[3.6,102.75,.12],[6.9,102.75,.08],[10.5,102.8,.05],[11.05,102.75,.1],[11.7,102.55,.25],[11.55,102.95,.1],
[-11.1,101.75,.35],[-8.7,102,.1],[-7.75,101.95,.3],[-6.7,102.33,.06],[10.25,101.9,.1,.3],[-4.15,101.55,.35],[-2.45,101.8,.1],[-2.45,101.5,.1,.4],[.05,101.92,.1],[.2,101.45,.35],[2.8,101,.4],[4.1,100.9,.1,.45],[5.35,101.15,.4],[6.2,100.7,.2],[-1.6,101.05,.2],[-1.5,100.9,.12],[-4.6,100.75,.15],[-1.85,100.7,.3],[-3.15,100.58,.1],[-.85,100.67,.15],[2.65,100.65,.2],[10.9,101.1,.35],[11.2,100.85,.15],[11.7,100.44,.12],[10.95,100.2,.12],[9.05,100.45,.35],[-11.55,100.87,.1],[-9.9,100.55,.2],[-11.1,100.33,.1],[-8.75,100.28,.1],[-6.6,100.5,.15],[-10.9,99.83,.1],[-8.2,99.85,.2],[-6.6,99.75,.06],[-10.25,99.6,.1,.35],[-6.15,100.03,.15],[-5.9,99.35,.1,.3],[-3.75,99.35,.12],[-3.15,99.28,.06],[-1.75,99.3,.1],[-.95,100.35,.1],[-.6,99.35,.1],[1.25,99.33,.1],[6.4,99.65,.55],[7.7,100,.2],[8.6,99.75,.3],[9.05,99.55,.25],[9.3,99.37,.2],[9.2,99.87,.2],[2.9,99.1,.2],[4.35,99.15,.3],[6.1,98.97,.2],[5.45,99.05,.1],[10.8,99.05,.35],[10.9,98.9,.25],[-11.3,99,.4],[11.15,98.5,.25],[10.9,98.1,.3],[-11.15,98.33,.3],[-7.2,98.28,.15],[-2.7,98.8,.06],[-1.7,98.2,.3],[-.35,98.12,.3],[.03,98.35,.15],[2.4,98.1,.1],[7.05,98.25,.1,.3],[-10.4,97.97,.35],[-4.7,98.42,.08],[-10,97.42,.3],[-3.6,97.53,.1,.2],[-3.15,97.53,.2],[2.4,97.65,.2],[4.05,97.5,.35],[8.2,97.37,.35],[8.9,97.43,.08],[6.5,97.22,.2],[.03,97.15,.15],[2.4,97,.1,.3],[10,97,.06],[8,96.97,.2],[7.45,96.87,.15],[11.05,96.87,.2],[8.65,96.7,.2],[4.45,96.8,.2],[5.9,96.75,.25],[5.9,96.47,.1,.3],[-7.75,96.9,.3],[-10,96.7,.35],[-3.35,96.6,.35],[-6.65,96.65,.1],[1.25,96.3,.1],[2.8,96.2,.1],[10.7,96.5,.5],[9.45,96.25,.25],[8.2,96.2,.1],[-4.95,96.15,.25],[-.2,96.02,.1,.45],[-11,95.92,.3],[-9.6,95.9,.15],[-8,95.87,.3],[-10.8,95.78,.12],[-10.1,95.7,.2],[9.3,95.7,.12],[11.05,95.5,.12],[10.65,95.4,.12],[9.35,95.4,.25],[.9,95.5,.25],[3.05,95.55,.2,.3],[3.9,95.55,.3],[4.85,95.42,.35],[-7.4,95.5,.12],[-6.8,95.4,.08],[-4.15,95.78,.08],[-8,95.2,.1],[-7.5,95.1,.1],[-7,95,.1],[-10.4,95.05,.15,.3],[-4.55,95.1,.2],[-3.9,94.87,.2],[1.1,94.95,.35],[-2.65,95,.1,.45],[-3.15,94.65,.4],[-1.7,94.8,.2],[2.5,94.83,.1,.4],[3.2,94.87,.15],[3.6,94.9,.12],[8.65,94.87,.12],[10,94.73,.1],[-9.35,94.55,.1,.35],[-.95,94.6,.15],[.5,94.45,.1],[-8.55,94.25,.3],[-8,94.2,.25],[-7.3,94.2,.4],[4,94.25,.25],[7.55,94.23,.1],[10.65,94.25,.15],[-9.85,94,.1],[-7.5,93.77,.2],[-2.55,94,.1],[-.9,94.03,.1],[4.8,94.03,.1],[5.75,93.95,.1,.35],[7.45,93.95,.12],[8.4,93.7,.3],[7.7,93.7,.1],[6.9,93.7,.1,.25],[8.1,93.5,.2],[5.85,93.7,.2],[-6,93.75,.06],[.5,93.55,.12],[1.55,93.55,.12],[-1.35,93.55,.08],[-3.7,93,.35],[-3.5,93.1,.25],[-2.5,92.9,.3],[-6.4,92.95,.2],[.75,92.97,.25,.25],[1.55,92.87,.25],[2.8,93.1,.1],[4.9,92.9,.2],[8,92.9,.25],[9.6,92.95,.35],[9.2,92.65,.15],[10.6,92.62,.15],[-.3,92.7,.35],[4.65,92.65,.12],[4.2,92.65,.1],[-8.25,92.65,.08],[-5.15,92.7,.1],[-9.45,92.45,.3],[-9.1,92.35,.4],[-7.35,91.9,.25],[-4.3,92.28,.15],[-2.8,92.2,.4],[.65,92.2,.35],[1.05,92.33,.25],[1.7,92.15,.25],[3.2,92.05,.1,.35],[5.45,91.95,.3],[6,91.75,.15],[-9.5,91.63,.3],[-9.6,91.4,.12],[-10.55,91.2,.15],[-6.1,91.23,.15],[-2.3,91.2,.3],[-.25,91.55,.3],[2.05,91.42,.1],[2.95,91.5,.2],[-9.5,91.03,.1,.3],[-7.5,90.83,.3],[4.4,90.98,.25],[5.9,90.9,.25],[6.5,91.02,.15],[10,91.03,.2],[9.7,90.78,.2],[10.45,91.1,.06],[8.4,91.05,.1]];
const copperB=[[-12.95,114,.3],[12.45,113.95,.15],[3.45,114.1,.2,.3],[3.55,114.25,.1],[-10.6,113.8,.08],[7.05,113.62,.2],[6.3,113.5,.1,.25],[-2.55,113.55,.1],[4.5,113.25,.15],[4.25,113.2,.1],[-6.15,113.1,.06],[-6.7,112.82,.3],[-4.3,112.95,.2],[4.1,112.9,.2],[1.1,112.8,.15],[3.05,112.7,.12],[-9.55,112.25,.25],[-7.5,112.1,.08],[8.65,112.15,.3],[4.2,112.05,.25],[9,111.8,.1],[-10.7,111.4,.1],[6.7,111.4,.1],[-12.7,111.13,.1],[-12.65,110.9,.15],[5.65,111,.3],[6.2,111.15,.15],[8.65,111.13,.06],[9.75,110.65,.35],[-10,110.82,.12],[-6.05,110.72,.2],[-5.75,110.62,.1],[-.03,110.6,.15],[2.95,110.8,.2],[4.5,110.33,.25],[-11.55,110.28,.1],[-5.3,110.17,.18],[-7.4,110.12,.08],[12.75,110.2,.1],[-2.65,110,.45],[4.5,109.95,.12],[-11.55,109.67,.15],[4.35,109.43,.4],[.5,108.87,.12],[-11.25,108.7,.1],[-10.6,108.55,.1],[-8.75,108.6,.3],[-7.5,108.3,.3],[-2.6,108.3,.15],[7.9,108.37,.1],[-2.95,108,.15],[5.9,107.77,.12],[7.4,107.8,.08],[6.25,107.45,.2],[6.55,107.45,.3],[1.35,107.55,.3],[-4.15,107.13,.18],[-10.85,107.1,.12],[10.1,107.07,.12],[-9.85,106.9,.12],[9.7,106.75,.25],[12.3,106.75,.12],[7.25,106.72,.08],[-9.2,106.35,.35],[-2.85,106.45,.1],[-5.25,106.15,.12],[-11.25,105.8,.2],[3.5,105.77,.1],[4.5,105.77,.12],[.1,105.95,.15],[-8.25,105.57,.25],[9.2,105.9,.15],[12.05,105.25,.1,.25],[-3.55,105.2,.08],[-8.1,104.7,.15],[5.3,104.47,.15],[6.9,104.55,.06],[11.2,104.25,.45],[-1.7,104.2,.2],[-9.6,104,.1],[-10.45,103.8,.12],[4.2,103.88,.1],[11.65,103.55,.15,.2],[-11.1,103.1,.35],[-3.2,103.15,.4],[11.8,103.05,.35],[-11.6,102.55,.3],[7.55,102.55,.1],
[-7.2,101.9,.3],[-10.55,101.45,.3],[-9.9,101.4,.1],[2.5,101.75,.3],[2.55,101.9,.1],[.7,101.6,.12],[2.1,102.1,.2],[9.25,102.25,.2],[9.85,102.05,.2],[9.05,101.33,.15],[7.55,101.1,.15],[10.77,100.95,.1],[-11.15,100.75,.2],[9.57,100.5,.35],[-3.95,100.43,.12],[1.57,100.35,.12],[-5.75,100.1,.3],[-5.75,99.87,.15],[-5.35,99.83,.1],[1.35,100.1,.06],[-1.15,99.85,.1],[1.55,99.82,.08],[-8.1,99.35,.15],[-9.9,99.7,.1],[-5.55,99.4,.15],[-.55,99.42,.1],[4.85,99.2,.6],[7.7,99.4,.12],[6.6,98.87,.15],[9.25,98.92,.06],[-7.2,98.87,.15],[-1.5,98.87,.2,.3],[-4.35,98.55,.25],[3.45,98.7,.08],[.2,98.33,.35],[4.35,98.2,.1],[5.15,97.97,.15],[6,97.87,.5],[-9.6,97.87,.3],[-3.9,97.75,.08],[-7.2,97.65,.1],[-6.8,97.33,.3],[-6.4,97.12,.12,.25],[-2.15,97.22,.06],[-8.5,97.17,.12],[2.05,97,.1],[-3.85,96.8,.25],[1.45,96.5,.3],[-10.95,96.3,.08],[6.77,96.07,.12],[-5.55,95.92,.25],[5.9,95.6,.35],[10.3,95.5,.2],[-10.55,95.2,.35],[-10.65,95,.25],[-3,95.1,.45],[-2.7,95.33,.2],[6.45,95.25,.2],[6.7,95.1,.12],[7.3,95.25,.06],[8.9,95.1,.12],[10.1,95.02,.3],[-9.5,94.78,.3],[-1.2,94.75,.4],[3.05,94.65,.2],[6.4,94.73,.08],[-5.75,94.07,.06],[9.2,93.92,.12],[8,94.1,.08],[10.5,94.25,.1],[-3.65,93.8,.15],[-2.1,93.7,.3],[-1.5,93.5,.1],[6.05,93.55,.35],[6.2,93.25,.15],[2.55,93.45,.2],[7.7,93.4,.2],[-1.2,93.3,.2],[-7,93.2,.35],[-10.3,93.1,.4],[6.85,92.67,.3],[3.25,92.55,.08],[-7.6,92.28,.2],[3.1,92.2,.25],[-8,91.65,.2],[-1.15,91.85,.12],[7.05,91.75,.12],[4.35,91.67,.2],[-7.35,91.4,.1],[-.4,91.3,.3],[1.1,91.25,.12],[9.05,91.15,.1]];
const brassB=[];
const xTickValues=[-10,-5,0,5,10], xTickLabels=['\u221210','\u22125','0','5','10'], yTickLabels=['90','95','100','105','110','115'];
const chartTitle='Final Pad Patches';

const chart=echarts.init(document.getElementById('c'),null,{renderer:'canvas'});
const AXC='#404040', TXT='#262626', FS=42, FF='"Liberation Sans",Arial,sans-serif';
const grid=[],xAxis=[],yAxis=[],series=[],title=[];
function rectSeries(xi,data,color){
  series.push({type:'custom',xAxisIndex:xi,yAxisIndex:xi,animation:false,silent:true,clip:true,data,encode:{x:0,y:1},
    renderItem(p,api){
      const c=api.coord([api.value(0),api.value(1)]);
      const w0=api.value(3);
      const s=api.size([isNaN(w0)?.15:w0,api.value(2)]);
      return {type:'rect',shape:{x:c[0]-s[0]/2,y:c[1]-s[1]/2,width:s[0],height:s[1]},style:{fill:color,stroke:color,lineWidth:1.5}};
    }});
}
function panel(left,cbLeft,caption,capX,streaks,steel,copper,brass){
  const gi=grid.length, xi=xAxis.length;
  grid.push({left,top:92,width:1273,height:1123,containLabel:false});
  const common={min:-15,max:15,interval:5,gridIndex:gi,type:'value'};
  const labelStyle={fontSize:FS,color:TXT,fontFamily:FF};
  xAxis.push({...common,position:'bottom',axisLine:{onZero:false,lineStyle:{color:AXC,width:3}},axisTick:{inside:true,length:14,lineStyle:{color:AXC,width:2}},
    axisLabel:{...labelStyle,margin:28,formatter:v=>{const i=xTickValues.indexOf(v);return i<0?'':xTickLabels[i];}},splitLine:{show:true,lineStyle:{color:'#e6e6e6',width:2}}});
  xAxis.push({...common,position:'top',axisLine:{onZero:false,lineStyle:{color:AXC,width:3}},axisTick:{inside:true,length:14,lineStyle:{color:'#909090',width:2}},axisLabel:{show:false},splitLine:{show:false}});
  const yc={min:90,max:115,interval:5,gridIndex:gi,type:'value'};
  yAxis.push({...yc,position:'left',axisLine:{onZero:false,lineStyle:{color:AXC,width:3}},axisTick:{inside:true,length:13,lineStyle:{color:AXC,width:2}},
    axisLabel:{...labelStyle,margin:18,formatter:v=>yTickLabels.includes(String(v))?String(v):''},splitLine:{show:true,lineStyle:{color:'#e6e6e6',width:3}}});
  yAxis.push({...yc,position:'right',axisLine:{onZero:false,lineStyle:{color:'#606060',width:2}},axisTick:{inside:true,length:13,lineStyle:{color:AXC,width:2}},axisLabel:{show:false},splitLine:{show:false}});
  // pad sector
  series.push({type:'custom',xAxisIndex:xi,yAxisIndex:xi,animation:false,silent:true,clip:true,data:padOutline,encode:{x:0,y:1},
    renderItem(p,api){ if(p.dataIndex!==0) return null;
      return {type:'polygon',shape:{points:padOutline.map(q=>api.coord(q))},style:{fill:'#cccccc'}}; }});
  // plateaus
  series.push({type:'custom',xAxisIndex:xi,yAxisIndex:xi,animation:false,silent:true,clip:true,data:streaks.map((s,i)=>[s[0],s[1],i]),encode:{x:0,y:1},
    renderItem(p,api){ const s=streaks[api.value(2)],up=[],dn=[];
      for(let k=0;k<s.length;k+=3){up.push(api.coord([s[k],s[k+1]+s[k+2]/2]));dn.unshift(api.coord([s[k],s[k+1]-s[k+2]/2]));}
      return {type:'polygon',shape:{points:up.concat(dn)},style:{fill:'#ffff00',stroke:'#ffff00',lineWidth:4,lineJoin:'round'}}; }});
  if(brass.length) rectSeries(xi,brass,'#edb120');
  rectSeries(xi,steel,'#0000ff');
  rectSeries(xi,copper,'#ff0000');
  title.push({text:chartTitle,left:left+634,top:39,textAlign:'center',textStyle:{fontSize:47,fontWeight:'bold',color:'#000',fontFamily:FF}});
  title.push({text:'{p|(}{b|'+caption+'}{p|)}',left:capX,top:1443,textAlign:'center',textStyle:{rich:{p:{fontSize:80,fontFamily:'"Liberation Serif",serif',color:'#000'},b:{fontSize:80,fontWeight:'bold',fontFamily:'"Liberation Serif",serif',color:'#000'}}}});
  // colour bar
  const cg=grid.length, cx=xAxis.length;
  grid.push({left:cbLeft,top:92,width:71,height:1123});
  const cbCat={type:'category',data:['c'],gridIndex:cg,axisTick:{show:false},axisLabel:{show:false},splitLine:{show:false}};
  xAxis.push({...cbCat,position:'bottom',axisLine:{onZero:false,lineStyle:{color:'#303030',width:3}}});
  xAxis.push({...cbCat,position:'top',axisLine:{onZero:false,lineStyle:{color:'#303030',width:3}}});
  const cbVal={type:'value',min:0,max:5,gridIndex:cg,splitLine:{show:false}};
  yAxis.push({...cbVal,position:'right',axisLine:{onZero:false,lineStyle:{color:'#909090',width:2}},
    axisTick:{show:true,inside:true,length:3,customValues:colorLabelPos,lineStyle:{color:'#404040',width:2}},
    axisLabel:{fontSize:44,color:TXT,fontFamily:FF,margin:18,customValues:colorLabelPos,formatter:v=>{const i=colorLabelPos.findIndex(q=>Math.abs(q-v)<1e-6);return i<0?'':colorLabels[i];}}});
  yAxis.push({...cbVal,position:'left',axisLine:{onZero:false,lineStyle:{color:'#404040',width:2}},axisTick:{show:false},axisLabel:{show:false}});
  colorNames.forEach((n,i)=>series.push({type:'bar',name:n,stack:'cb'+cg,xAxisIndex:cx,yAxisIndex:cx,barWidth:'100%',animation:false,silent:true,data:[1],itemStyle:{color:colorFills[i]}}));
}
panel(135,1444,'a',836,plateauA,steelA,copperA,brassA);
panel(2063,3372,'b',2763,plateauB,steelB,copperB,brassB);
chart.setOption({animation:false,backgroundColor:'#fff',title,grid,xAxis,yAxis,series});
</script></body></html>
